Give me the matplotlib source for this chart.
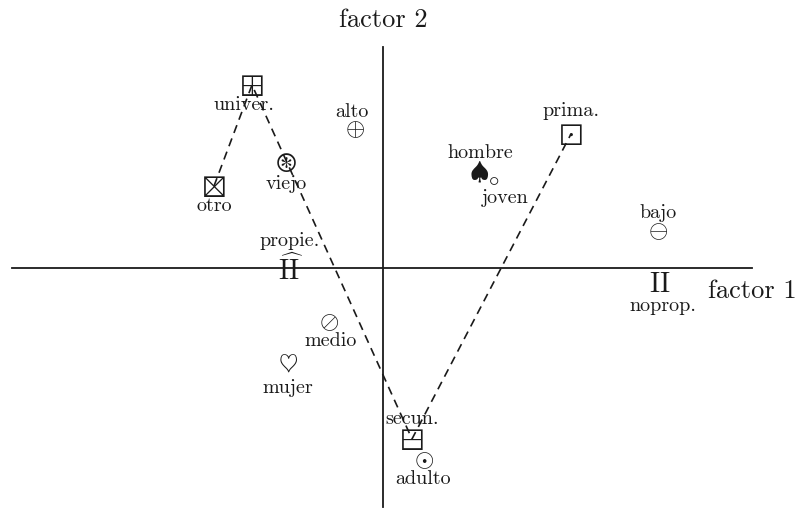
import matplotlib
matplotlib.use("Agg")
import matplotlib.pyplot as plt

plt.rcParams['font.family'] = ['cmr10', 'DejaVu Serif']
plt.rcParams['mathtext.fontset'] = 'cm'
plt.rcParams['axes.unicode_minus'] = False

# categories and coordinates (factor 1, factor 2)
names = ["univer.", "otro", "viejo", "alto", "hombre", "joven", "prima.", "bajo",
         "propie.", "noprop.", "medio", "mujer", "secun.", "adulto"]
factor1 = [-1.31, -1.69, -0.97, -0.28, 0.96, 1.11, 1.88, 2.75,
           -0.92, 2.77, -0.54, -0.95, 0.29, 0.41]
factor2 = [1.83, 0.82, 1.06, 1.39, 0.97, 0.89, 1.34, 0.37,
           -0.01, -0.16, -0.54, -0.97, -1.71, -1.92]
symbols = [r"$\boxplus$", r"$\boxtimes$", r"$\circledast$", r"$\oplus$", r"$\spadesuit$",
           r"$\circ$", r"$\boxdot$", r"$\ominus$", r"$\widehat{\mathrm{II}}$", r"$\mathrm{II}$",
           r"$\oslash$", r"$\heartsuit$", r"$\boxminus$", r"$\odot$"]
# label offsets (points) relative to symbol
label_dx = [-6, 0, 0, -2, 1, 8, 0, 0, -1, 2, 1, 0, 0, -1]
label_dy = [-14, -14, -15, 13, 14, -13, 17, 14, 21, -15, -13, -16, 15, -13]

# dashed path order
path = ["otro", "univer.", "secun.", "prima."]

fig = plt.figure(figsize=(7.98, 5.10), dpi=100)
ax = fig.add_axes([0, 0, 1, 1])
ax.set_xlim(-3.83, 4.15)
ax.set_ylim(-2.41, 2.69)
ax.axis('off')

ax.plot([-3.71, 3.69], [0, 0], color='#1a1a1a', lw=1.3)
ax.plot([0, 0], [-2.39, 2.21], color='#1a1a1a', lw=1.3)

px = [factor1[names.index(n)] for n in path]
py = [factor2[names.index(n)] for n in path]
ax.plot(px, py, color='#1a1a1a', lw=1.2, linestyle=(0, (5, 3.5)))

for i, n in enumerate(names):
    fs = 18
    if n in ("propie.", "noprop."):
        fs = 20
    elif n == "joven":
        fs = 15
    ax.text(factor1[i], factor2[i], symbols[i], ha='center', va='center',
            fontsize=fs, color='#1a1a1a')
    ax.annotate(n, (factor1[i], factor2[i]), xytext=(label_dx[i], label_dy[i]),
                textcoords='offset points', ha='center', va='center',
                fontsize=14.5, color='#1a1a1a')

ax.text(0, 2.49, "factor 2", ha='center', va='center', fontsize=19, color='#1a1a1a')
ax.text(3.69, -0.22, "factor 1", ha='center', va='center', fontsize=19, color='#1a1a1a')

fig.savefig("out.png", dpi=100)
